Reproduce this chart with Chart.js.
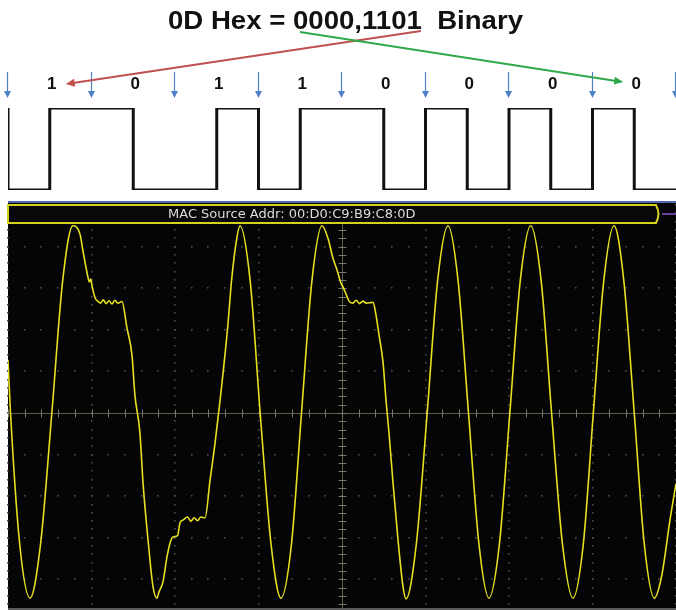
<!DOCTYPE html>
<html lang="en">
<head>
  <meta charset="UTF-8" />
  <title>0D Hex Manchester</title>
  <script src="https://cdn.jsdelivr.net/npm/chart.js"></script>
  <style>
    body {
      margin: 0;
      background: #ffffff;
      overflow: hidden;
    }
    canvas {
      position: absolute;
      left: 0;
    }
    #bits { top: 0; }
    #scope { top: 200px; }
  </style>
</head>
<body>

  <canvas id="bits" width="676" height="200"></canvas>
  <canvas id="scope" width="676" height="410"></canvas>

  <script>
    // ---- data ----
    const titleText = '0D Hex = 0000,1101  Binary';
    const headerText = 'MAC Source Addr: 00:D0:C9:B9:C8:0D';

    // bits as they go out on the wire (LSB first)
    const bitLabels = ['1', '0', '1', '1', '0', '0', '0', '0'];
    // line level for each half bit cell, plus the level before the first cell
    const startLevel = 1;
    const halfBitLevels = [0, 1, 1, 0, 0, 1, 0, 1, 1, 0, 1, 0, 1, 0, 1, 0];

    // scope trace: time in divisions, voltage in divisions
    const scopeT = [
      0.000, 0.030, 0.140, 0.263, 0.390, 0.525, 0.655, 0.778,
      0.862, 0.900, 0.945, 0.975, 0.990, 1.010, 1.045, 1.075, 1.110, 1.140, 1.175, 1.210, 1.245, 1.280, 1.315, 1.365,
      1.425, 1.485, 1.520, 1.580, 1.617, 1.677, 1.737, 1.784,
      1.808, 1.856, 1.904, 1.940, 1.976, 2.030, 2.060, 2.100, 2.150, 2.190, 2.230, 2.270, 2.310, 2.360,
      2.420, 2.480, 2.540, 2.630, 2.680, 2.740, 2.778,
      2.900, 3.020, 3.150, 3.270, 3.395, 3.515, 3.640, 3.760,
      3.832, 3.892, 3.940, 3.988, 4.012, 4.050, 4.084, 4.130, 4.170, 4.210, 4.250, 4.290, 4.371,
      4.407, 4.443, 4.491, 4.527, 4.563, 4.611, 4.671, 4.731, 4.766,
      4.890, 5.020, 5.145, 5.270, 5.390, 5.515, 5.640, 5.760,
      5.885, 6.010, 6.135, 6.260, 6.385, 6.510, 6.640, 6.766,
      6.890, 7.010, 7.135, 7.257, 7.375, 7.500, 7.620, 7.740,
      7.830, 7.928, 8.000
    ];
    const scopeV = [
      1.27, 0.00, -3.15, -4.45, -3.15, 0.00, 3.18, 4.50,
      4.30, 3.87, 3.39, 3.15, 3.22, 3.02, 2.76, 2.69, 2.64, 2.72, 2.63, 2.70, 2.62, 2.71, 2.64, 2.68,
      2.04, 1.39, 0.43, -0.48, -1.68, -3.05, -4.18, -4.45,
      -4.30, -4.06, -3.46, -3.13, -2.98, -2.95, -2.64, -2.57, -2.50, -2.60, -2.52, -2.59, -2.50, -2.52,
      -1.61, -0.72, 0.31, 2.04, 3.24, 4.20, 4.50,
      3.18, 0.00, -3.15, -4.45, -3.15, 0.00, 3.18, 4.50,
      4.20, 3.72, 3.44, 3.12, 3.03, 2.85, 2.69, 2.64, 2.71, 2.63, 2.69, 2.64, 2.66,
      2.36, 1.88, 1.23, 0.31, -0.48, -1.68, -3.05, -4.18, -4.47,
      -3.15, 0.00, 3.18, 4.50, 3.18, 0.00, -3.15, -4.45,
      -3.15, 0.00, 3.18, 4.50, 3.18, 0.00, -3.15, -4.45,
      -3.15, 0.00, 3.18, 4.50, 3.18, 0.00, -3.15, -4.45,
      -3.90, -2.57, -1.70
    ];

    // ---- helpers ----
    function arrow(ctx, x1, y1, x2, y2, color, width, headLen, headW) {
      const a = Math.atan2(y2 - y1, x2 - x1);
      const c = Math.cos(a), s = Math.sin(a);
      ctx.strokeStyle = color;
      ctx.lineWidth = width;
      ctx.beginPath();
      ctx.moveTo(x1, y1);
      ctx.lineTo(x2 - headLen * c * 0.8, y2 - headLen * s * 0.8);
      ctx.stroke();
      ctx.fillStyle = color;
      ctx.beginPath();
      ctx.moveTo(x2, y2);
      ctx.lineTo(x2 - headLen * c + headW * s, y2 - headLen * s - headW * c);
      ctx.lineTo(x2 - headLen * c - headW * s, y2 - headLen * s + headW * c);
      ctx.closePath();
      ctx.fill();
    }

    // ---- top: bit labels + manchester square wave ----
    const squareData = [{ x: 0, y: startLevel }]
      .concat(halfBitLevels.map((v, i) => ({ x: i * 0.5, y: v })))
      .concat([{ x: 8, y: halfBitLevels[halfBitLevels.length - 1] }]);

    const diagramPlugin = {
      id: 'diagram',
      beforeDraw(chart) {
        const ctx = chart.ctx;
        ctx.save();
        ctx.fillStyle = '#ffffff';
        ctx.fillRect(0, 0, chart.width, chart.height);
        ctx.restore();
      },
      afterDraw(chart) {
        const ctx = chart.ctx;
        const x = chart.scales.x;
        ctx.save();

        // title, squeezed to the width it has in the picture
        ctx.font = 'bold 25px "Liberation Sans", Arial, sans-serif';
        const w = ctx.measureText(titleText).width;
        const titleW = 355;
        const sx = titleW / w;
        const left = 345.5 - titleW / 2;
        ctx.save();
        ctx.translate(left, 29);
        ctx.scale(sx, 1);
        ctx.fillStyle = '#111111';
        ctx.textBaseline = 'alphabetic';
        ctx.fillText(titleText, 0, 0);
        ctx.restore();

        const zerosStart = left + ctx.measureText('0D Hex = ').width * sx;
        const onesEnd = left + ctx.measureText('0D Hex = 0000,1101').width * sx;

        // bit labels
        ctx.font = 'bold 17px "Liberation Sans", Arial, sans-serif';
        ctx.fillStyle = '#111111';
        ctx.textAlign = 'center';
        ctx.textBaseline = 'middle';
        bitLabels.forEach((b, i) => {
          ctx.fillText(b, x.getPixelForValue(i + 0.5) + 2, 84);
        });

        // blue clock arrows at bit boundaries
        for (let i = 0; i <= bitLabels.length; i++) {
          const px = Math.round(x.getPixelForValue(i)) - 0.5;
          arrow(ctx, px, 72, px, 98, '#4f81c7', 1.2, 7, 3.5);
        }

        // red / green pointers from the title to the bits
        arrow(ctx, onesEnd - 1, 31, x.getPixelForValue(0.5) + 16, 84, '#c0504d', 2, 9, 4);
        arrow(ctx, zerosStart + 7, 32, x.getPixelForValue(7.5) - 11, 82, '#2fa84a', 2, 9, 4);

        ctx.restore();
      }
    };

    new Chart(document.getElementById('bits'), {
      type: 'line',
      data: {
        datasets: [{
          data: squareData,
          borderColor: '#111111',
          borderWidth: 3,
          stepped: true,
          pointRadius: 0,
          borderJoinStyle: 'miter',
          fill: false
        }]
      },
      options: {
        responsive: false,
        animation: false,
        devicePixelRatio: 1,
        layout: { padding: { left: 8, right: 0, top: 108, bottom: 10 } },
        plugins: { legend: { display: false }, tooltip: { enabled: false } },
        scales: {
          x: { type: 'linear', min: 0, max: 8, display: false },
          y: { min: 0, max: 1, display: false }
        }
      },
      plugins: [diagramPlugin]
    });

    // ---- bottom: scope capture ----
    const scopePlugin = {
      id: 'scopeScreen',
      beforeDraw(chart) {
        const ctx = chart.ctx;
        ctx.save();
        ctx.fillStyle = '#ffffff';
        ctx.fillRect(0, 0, chart.width, chart.height);
        ctx.fillStyle = '#050505';
        ctx.fillRect(8, 3, chart.width - 8, chart.height - 3);
        ctx.fillStyle = '#5266b0';
        ctx.fillRect(8, 1, chart.width - 8, 2);
        ctx.restore();
      },
      beforeDatasetsDraw(chart) {
        const ctx = chart.ctx;
        const { x, y } = chart.scales;
        ctx.save();
        // dotted graticule
        ctx.fillStyle = '#4c4c4c';
        for (let k = 0; k <= 8; k++) {
          if (k === 4) continue;
          const px = Math.round(x.getPixelForValue(k));
          for (let v = -25; v <= 25; v++) {
            ctx.fillRect(px - 1, Math.round(y.getPixelForValue(v / 5)) - 1, 1.6, 1.6);
          }
        }
        for (let j = -4; j <= 4; j++) {
          if (j === 0) continue;
          const py = Math.round(y.getPixelForValue(j));
          for (let u = 0; u <= 40; u++) {
            ctx.fillRect(Math.round(x.getPixelForValue(u / 5)) - 1, py - 1, 1.6, 1.6);
          }
        }
        // centre cross with ticks
        const cx = Math.round(x.getPixelForValue(4)) + 0.5;
        const cy = Math.round(y.getPixelForValue(0)) + 0.5;
        ctx.strokeStyle = '#5a5a48';
        ctx.lineWidth = 1;
        ctx.beginPath();
        ctx.moveTo(x.left, cy); ctx.lineTo(x.right, cy);
        ctx.moveTo(cx, y.top); ctx.lineTo(cx, y.bottom);
        ctx.stroke();
        ctx.strokeStyle = '#777766';
        ctx.beginPath();
        for (let u = 0; u <= 40; u++) {
          const px = Math.round(x.getPixelForValue(u / 5)) + 0.5;
          ctx.moveTo(px, cy - 4); ctx.lineTo(px, cy + 4);
        }
        for (let v = -25; v <= 25; v++) {
          const py = Math.round(y.getPixelForValue(v / 5)) + 0.5;
          ctx.moveTo(cx - 4, py); ctx.lineTo(cx + 4, py);
        }
        ctx.stroke();
        ctx.restore();
      },
      afterDatasetsDraw(chart) {
        const ctx = chart.ctx;
        ctx.save();
        // header bar
        ctx.fillStyle = '#080808';
        ctx.strokeStyle = '#d6d21c';
        ctx.lineWidth = 2;
        ctx.beginPath();
        ctx.moveTo(8, 5);
        ctx.lineTo(656, 5);
        ctx.quadraticCurveTo(661, 14, 656, 23);
        ctx.lineTo(8, 23);
        ctx.closePath();
        ctx.fill();
        ctx.stroke();
        ctx.fillStyle = '#dcdcdc';
        ctx.font = '13px "DejaVu Sans", Verdana, sans-serif';
        ctx.textBaseline = 'middle';
        ctx.textAlign = 'left';
        ctx.fillText(headerText, 168, 14.5);
        // purple marker to the right of the bar
        ctx.fillStyle = '#6a3fa0';
        ctx.fillRect(662, 13, 14, 2);
        // bottom edge of the screen
        ctx.fillStyle = '#5a5a5a';
        ctx.fillRect(8, chart.height - 2, chart.width - 8, 2);
        ctx.restore();
      }
    };

    new Chart(document.getElementById('scope'), {
      type: 'line',
      data: {
        datasets: [{
          data: scopeT.map((t, i) => ({ x: t, y: scopeV[i] })),
          borderColor: '#e6e020',
          borderWidth: 1.6,
          pointRadius: 0,
          cubicInterpolationMode: 'monotone',
          fill: false
        }]
      },
      options: {
        responsive: false,
        animation: false,
        devicePixelRatio: 1,
        layout: { padding: { left: 8, right: 0, top: 5, bottom: 0 } },
        plugins: { legend: { display: false }, tooltip: { enabled: false } },
        scales: {
          x: { type: 'linear', min: 0, max: 8, display: false },
          y: { min: -4.736, max: 5, display: false }
        }
      },
      plugins: [scopePlugin]
    });
  </script>

</body>
</html>
